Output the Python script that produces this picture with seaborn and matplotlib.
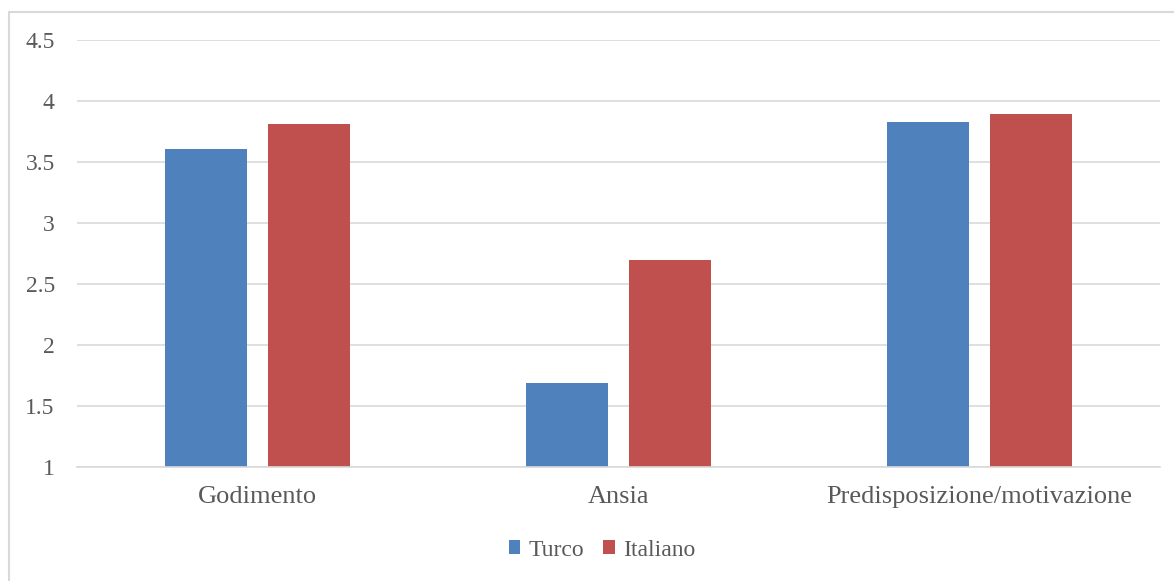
import matplotlib
matplotlib.use("Agg")
import matplotlib.pyplot as plt
import seaborn as sns
import pandas as pd
from matplotlib.lines import Line2D
from matplotlib.patches import Patch

categories = ["Godimento", "Ansia", "Predisposizione/motivazione"]
series = ["Turco", "Italiano"]
turco = [3.61, 1.69, 3.83]
italiano = [3.81, 2.70, 3.89]
yticks = [1, 1.5, 2, 2.5, 3, 3.5, 4, 4.5]
ytick_labels = ["1", "1.5", "2", "2.5", "3", "3.5", "4", "4.5"]
colors = ["#4F81BD", "#C0504D"]

df = pd.DataFrame({
    "categoria": categories * 2,
    "serie": [series[0]] * 3 + [series[1]] * 3,
    "valore": turco + italiano,
})

sns.set_theme(style="white")
plt.rcParams["font.family"] = ["Liberation Serif", "DejaVu Serif"]
text_color = "#595959"

fig = plt.figure(figsize=(11.74, 5.81), dpi=100)
ax = fig.add_axes([77 / 1174, (581 - 467) / 581, (1160 - 77) / 1174, (467 - 40) / 581])

sns.barplot(data=df, x="categoria", y="valore", hue="serie", order=categories,
            hue_order=series, palette=colors, width=0.57, gap=0.2,
            saturation=1, linewidth=0, ax=ax, legend=False)

ax.set_ylim(1, 4.5)
ax.set_xlim(-0.5, 2.5)
ax.set_yticks(yticks)
ax.set_yticklabels(ytick_labels)
ax.yaxis.grid(True, color="#d9d9d9", linewidth=1.2)
ax.set_axisbelow(True)
for s in ["top", "right", "left"]:
    ax.spines[s].set_visible(False)
ax.spines["bottom"].set_color("#d9d9d9")
ax.spines["bottom"].set_linewidth(1.2)
ax.set_xlabel("")
ax.set_ylabel("")
ax.tick_params(axis="y", length=0, pad=16, labelsize=17, labelcolor=text_color)
ax.tick_params(axis="x", length=0, pad=14, labelsize=19, labelcolor=text_color)

handles = [Patch(facecolor=c, edgecolor="none") for c in colors]
fig.legend(handles, series, loc="center", bbox_to_anchor=(602 / 1174, 1 - 550 / 581),
           ncol=2, frameon=False, fontsize=17, handlelength=0.5, handleheight=0.5,
           handletextpad=0.35, columnspacing=0.8, labelcolor=text_color)

# chart border (top and left)
fig.add_artist(Line2D([9 / 1174, 9 / 1174], [0, 1 - 12 / 581], transform=fig.transFigure,
                      color="#d9d9d9", linewidth=1.5))
fig.add_artist(Line2D([9 / 1174, 1], [1 - 12 / 581, 1 - 12 / 581], transform=fig.transFigure,
                      color="#d9d9d9", linewidth=1.5))

fig.savefig("out.png", dpi=100)
